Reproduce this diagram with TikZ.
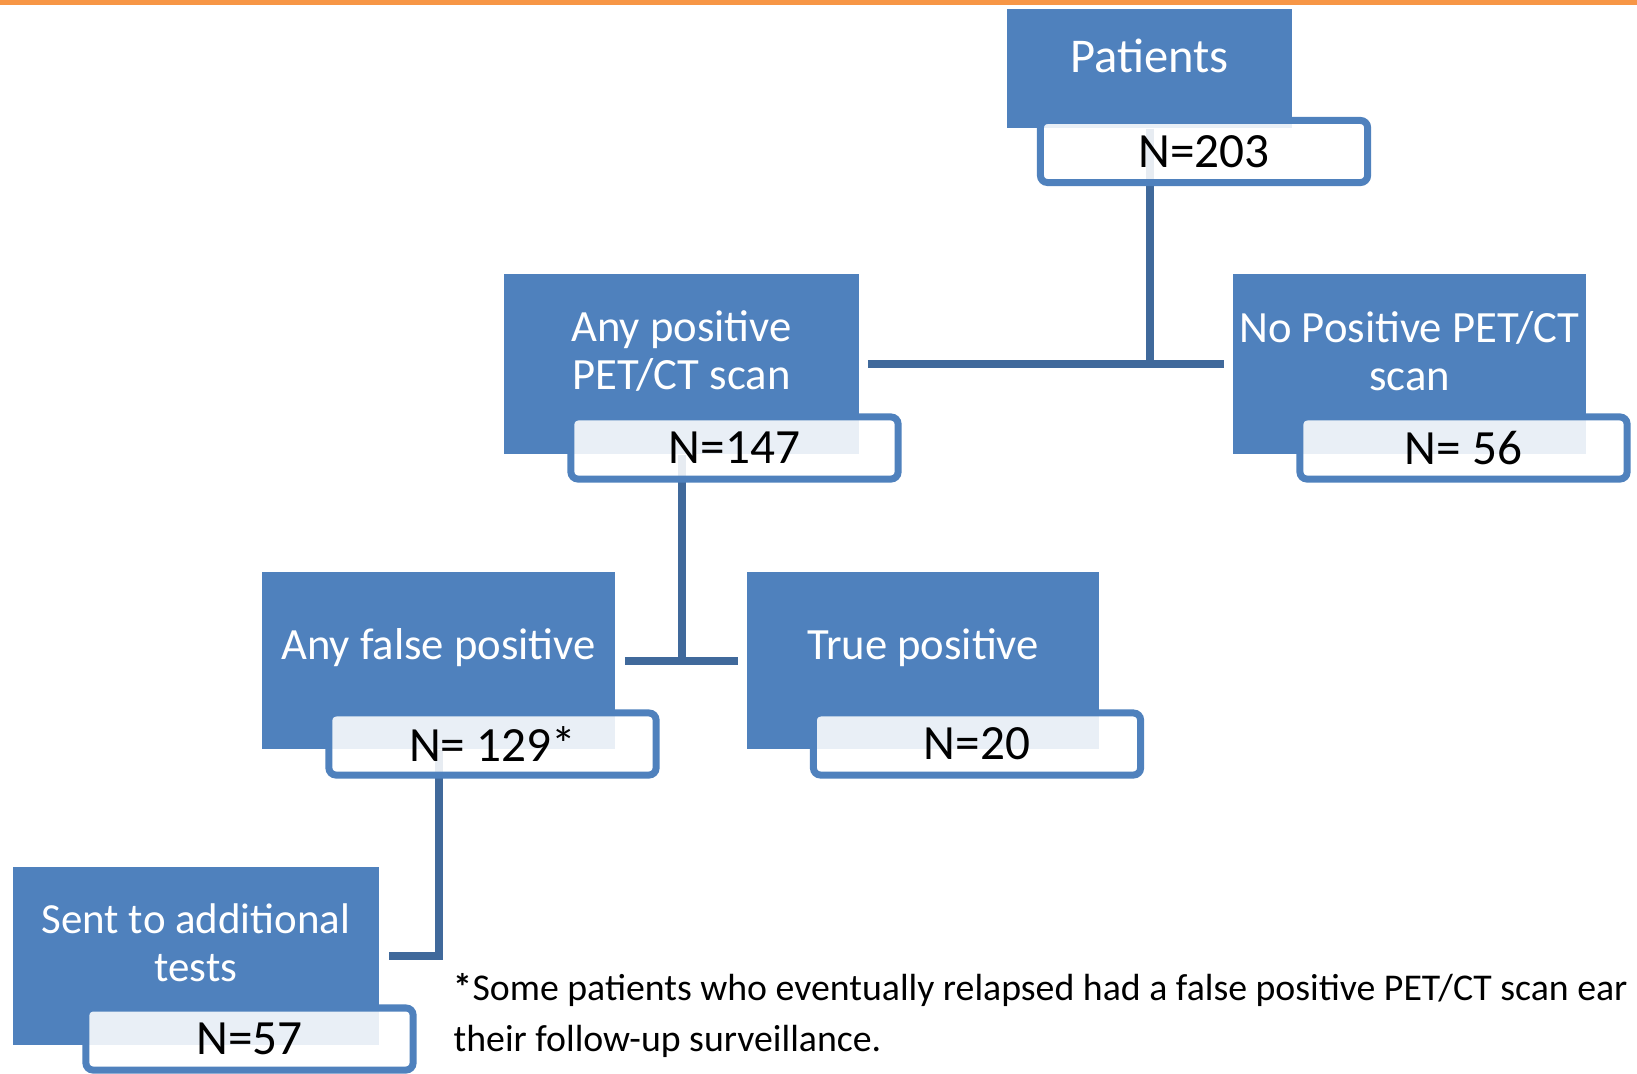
\documentclass[tikz,border=0pt]{standalone}
\usepackage{fontspec}
\setmainfont{Carlito}
\usepackage{tikz}
\usetikzlibrary{positioning, calc}

\definecolor{boxblue}{HTML}{4F81BD}
\definecolor{linkblue}{HTML}{40699B}
\definecolor{barorange}{HTML}{F79646}

\begin{document}
\begin{tikzpicture}[
        x=0.01cm, y=-0.01cm,
        % Blue boxes that carry the group names
        group/.style={
            rectangle,
            fill=boxblue,
            inner sep=0pt
        },
        grouptext/.style={
            text=white,
            align=center,
            inner sep=0pt,
            font=\fontsize{12.7}{13.7}\selectfont,
            yshift=0.13cm
        },
        % White boxes with the counts
        count/.style={
            rectangle,
            draw=boxblue,
            line width=0.07cm,
            fill=white,
            fill opacity=0.88,
            text opacity=1,
            rounded corners=2pt,
            minimum width=3.27cm,
            minimum height=0.62cm,
            inner sep=0pt,
            font=\fontsize{14}{16}\selectfont
        },
        link/.style={
            draw=linkblue,
            line width=0.08cm
        }
    ]

    \useasboundingbox (0,0) rectangle (1637,1073);
    \clip (0,0) rectangle (1637,1073);

    % Orange rule along the top
    \fill [barorange] (0,0) rectangle (1637,5);

    % Draw the group boxes
    \node (pat) [group, minimum width=2.85cm, minimum height=1.19cm,
        label={[grouptext, name=patlab, font=\fontsize{13.8}{15}\selectfont]center:Patients}]
        at (1149.5,68.5) {};
    \node (anypos) [group, minimum width=3.55cm, minimum height=1.8cm,
        label={[grouptext, name=anyposlab]center:Any positive\\PET/CT scan}]
        at (681.5,364) {};
    \node (nopos) [group, minimum width=3.53cm, minimum height=1.8cm,
        label={[grouptext, name=noposlab]center:No Positive PET/CT\\scan}]
        at (1409.5,364) {};
    \node (falsepos) [group, minimum width=3.53cm, minimum height=1.77cm,
        label={[grouptext, name=falseposlab]center:Any false positive}]
        at (438.5,660.5) {};
    \node (truepos) [group, minimum width=3.52cm, minimum height=1.77cm,
        label={[grouptext, name=trueposlab]center:True positive}]
        at (923,660.5) {};
    \node (sent) [group, minimum width=3.66cm, minimum height=1.78cm,
        label={[grouptext, name=sentlab, font=\fontsize{12.2}{13.7}\selectfont]center:Sent to additional\\tests}]
        at (196,956) {};

    % Draw the connecting lines
    \draw [link] (pat.south) -- (pat.south |- anypos.east);
    \draw [link] ([xshift=0.08cm]anypos.east) -- ([xshift=-0.08cm]nopos.west);
    \draw [link] (anypos.south) -- (anypos.south |- falsepos.east);
    \draw [link] ([xshift=0.09cm]falsepos.east) -- ([xshift=-0.08cm]truepos.west);
    \draw [link] (falsepos.south) |- ([xshift=0.09cm]sent.east);

    % Draw the count boxes
    \node (n203) [count] at (1204,151.5) {N=203};
    \node (n147) [count] at (734.5,448) {N=147};
    \node (n56) [count] at (1463.5,448) {N= 56};
    \node (n129) [count] at (492.5,744) {N= 129*};
    \node (n20) [count] at (977,744) {N=20};
    \node (n57) [count] at (249.5,1039) {N=57};

    % Footnote
    \node (note) [anchor=north west, align=left, inner sep=0pt,
        font=\fontsize{10.75}{14.5}\selectfont] at (453,973)
        {\textbf{*}Some patients who eventually relapsed had a false positive PET/CT scan ear\\
         their follow-up surveillance.};

\end{tikzpicture}
\end{document}
